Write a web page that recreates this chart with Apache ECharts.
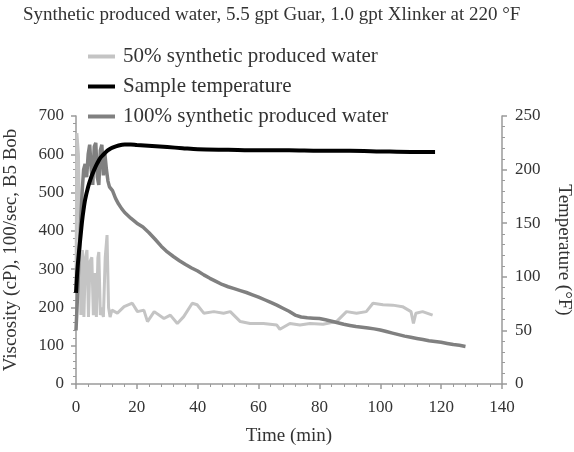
<!DOCTYPE html>
<html>
<head>
<meta charset="utf-8">
<style>
  html, body { margin: 0; padding: 0; background: #fff; }
  #chart { width: 574px; height: 452px; }
</style>
<script src="https://cdn.jsdelivr.net/npm/echarts@6/dist/echarts.min.js"></script>
</head>
<body>
<div id="chart"></div>
<script>
// Viscosity of crosslinked guar fluid in synthetic produced water at 220 °F

const seriesNames = ['50% synthetic produced water', 'Sample temperature', '100% synthetic produced water'];

// 50% synthetic produced water — viscosity (cP)
const t50 = [0, 0.3, 0.8, 1.2, 1.6, 2.1, 2.6, 3.1, 3.6, 4.1, 4.6, 5.2, 5.7, 6.2, 6.7, 7.2, 7.5, 8.0, 8.5, 9.0, 9.6, 10.2, 10.7, 11.2, 11.8,
  13.6, 15.8, 18.5, 20.2, 22.3, 23.5, 25.7, 28.9, 31, 33.3, 35.4, 38.2, 39.8, 42, 45.3, 48.5, 50.7, 54, 57.2, 61.6, 66, 67, 70.3,
  73.6, 76.9, 81.2, 85.6, 88.9, 92.2, 95.4, 97.6, 100.9, 104.1, 107.3, 110.1, 110.9, 111.7, 113.9, 117.2];
const v50 = [250, 655, 600, 420, 180, 350, 175, 330, 350, 175, 320, 331, 180, 290, 175, 330, 345, 180, 200, 175, 330, 389, 200, 175, 193,
  185, 202, 211, 189, 193, 163, 189, 171, 180, 158, 176, 211, 207, 185, 189, 185, 189, 163, 158, 158, 154, 143, 158,
  154, 158, 156, 163, 189, 185, 189, 211, 207, 206, 202, 189, 158, 185, 189, 180];

// Sample temperature (°F)
const tTemp = [0, 0.5, 1, 1.5, 2, 2.5, 3, 4, 5, 6, 7, 8, 9, 10, 11, 12, 14, 16, 18, 20, 25, 30, 35, 40, 50, 60, 70, 80, 90, 100, 110, 118];
const vTemp = [85, 108, 124, 138, 152, 163, 172, 184, 193, 200, 206, 211, 214, 217, 219, 220.5, 222.5, 223.5, 223.5, 223, 222, 221, 220, 219, 218.5, 218, 218, 217.5, 217.5, 217, 216.5, 216.5];

// 100% synthetic produced water — viscosity (cP)
const t100 = [0, 0.5, 1, 1.5, 2, 2.5, 3, 3.5, 4, 4.5, 5, 5.5, 6, 6.5, 7, 7.5, 8, 8.5, 9, 9.5, 10, 10.5, 11, 12, 13, 14, 15, 16, 18, 20,
  22, 24, 26, 28, 30, 32, 34, 36, 38, 40, 42, 44, 46, 48, 50, 52, 54, 56, 58, 60, 62, 64, 66, 68, 70, 72, 74, 76, 78, 80,
  82, 84, 86, 88, 90, 92, 94, 96, 98, 100, 102, 104, 106, 108, 110, 112, 114, 116, 118, 120, 122, 124, 126, 128];
const v100 = [140, 230, 330, 420, 500, 560, 575, 540, 600, 625, 560, 520, 620, 630, 540, 520, 610, 625, 545, 600, 560, 530, 515, 505, 485, 470, 458, 448, 433, 420,
  410, 395, 378, 360, 345, 333, 322, 312, 303, 295, 285, 276, 268, 260, 254, 249, 244, 239, 233, 227, 220, 213, 206, 198, 190, 180, 175, 173, 172, 171,
  168, 164, 160, 156, 153, 150, 148, 146, 144, 141, 137, 133, 129, 125, 122, 119, 116, 113, 111, 109, 106, 103, 101, 98];

const pair = (ts, vs) => ts.map((t, i) => [t, vs[i]]);

const FONT = '"Liberation Serif", "Times New Roman", serif';
const AXIS_COLOR = '#9a9a9a';
const TEXT_COLOR = '#333';

const chart = echarts.init(document.getElementById('chart'), null, { renderer: 'canvas' });

chart.setOption({
  animation: false,
  backgroundColor: '#fff',
  title: {
    text: 'Synthetic produced water, 5.5 gpt Guar, 1.0 gpt Xlinker at 220 °F',
    left: 18,
    top: 1,
    textStyle: { fontFamily: FONT, fontSize: 19, fontWeight: 'normal', color: TEXT_COLOR }
  },
  legend: {
    orient: 'vertical',
    left: 83,
    top: 41,
    itemWidth: 27,
    itemHeight: 4,
    itemGap: 9,
    textStyle: { fontFamily: FONT, fontSize: 21, color: TEXT_COLOR, padding: [0, 0, 0, 3] },
    data: [
      { name: seriesNames[0], icon: 'rect', itemStyle: { color: '#c4c4c4' } },
      { name: seriesNames[1], icon: 'rect', itemStyle: { color: '#000' } },
      { name: seriesNames[2], icon: 'rect', itemStyle: { color: '#808080' } }
    ]
  },
  grid: { left: 76, right: 72, top: 116, bottom: 68, containLabel: false, outerBoundsMode: 'none' },
  xAxis: {
    type: 'value',
    min: 0, max: 140, interval: 20,
    name: 'Time (min)',
    nameLocation: 'middle',
    nameGap: 43,
    nameTextStyle: { fontFamily: FONT, fontSize: 19, color: TEXT_COLOR },
    axisLine: { lineStyle: { color: AXIS_COLOR, width: 1.5 } },
    axisTick: { length: 5, lineStyle: { color: AXIS_COLOR, width: 1.5 } },
    minorTick: { show: true, splitNumber: 5, length: 3, lineStyle: { color: AXIS_COLOR } },
    splitLine: { show: false },
    axisLabel: { fontFamily: FONT, fontSize: 17, color: TEXT_COLOR, margin: 15 }
  },
  yAxis: [
    {
      type: 'value',
      min: 0, max: 700, interval: 100,
      name: 'Viscosity (cP), 100/sec, B5 Bob',
      nameLocation: 'middle',
      nameGap: 55,
      nameTextStyle: { fontFamily: FONT, fontSize: 19, color: TEXT_COLOR },
      axisLine: { show: true, lineStyle: { color: AXIS_COLOR, width: 1.5 } },
      axisTick: { show: true, length: 5, lineStyle: { color: AXIS_COLOR, width: 1.5 } },
      minorTick: { show: true, splitNumber: 5, length: 3, lineStyle: { color: AXIS_COLOR } },
      splitLine: { show: false },
      axisLabel: { fontFamily: FONT, fontSize: 17, color: TEXT_COLOR, margin: 12 }
    },
    {
      type: 'value',
      position: 'right',
      min: 0, max: 250, interval: 50,
      name: 'Temperature (°F)',
      nameLocation: 'middle',
      nameRotate: -90,
      nameGap: 52,
      nameTextStyle: { fontFamily: FONT, fontSize: 19, color: TEXT_COLOR },
      axisLine: { show: true, lineStyle: { color: AXIS_COLOR, width: 1.5 } },
      axisTick: { show: true, length: 5, lineStyle: { color: AXIS_COLOR, width: 1.5 } },
      minorTick: { show: true, splitNumber: 5, length: 3, lineStyle: { color: AXIS_COLOR } },
      splitLine: { show: false },
      axisLabel: { fontFamily: FONT, fontSize: 17, color: TEXT_COLOR, margin: 13 }
    }
  ],
  series: [
    {
      name: seriesNames[0],
      type: 'line',
      yAxisIndex: 0,
      data: pair(t50, v50),
      symbol: 'none',
      lineStyle: { color: '#c4c4c4', width: 3 },
      itemStyle: { color: '#c4c4c4' },
      z: 2
    },
    {
      name: seriesNames[2],
      type: 'line',
      yAxisIndex: 0,
      data: pair(t100, v100),
      symbol: 'none',
      lineStyle: { color: '#808080', width: 3.5 },
      itemStyle: { color: '#808080' },
      z: 3
    },
    {
      name: seriesNames[1],
      type: 'line',
      yAxisIndex: 1,
      data: pair(tTemp, vTemp),
      symbol: 'none',
      smooth: 0.3,
      lineStyle: { color: '#000', width: 4 },
      itemStyle: { color: '#000' },
      z: 4
    }
  ]
});
</script>
</body>
</html>
